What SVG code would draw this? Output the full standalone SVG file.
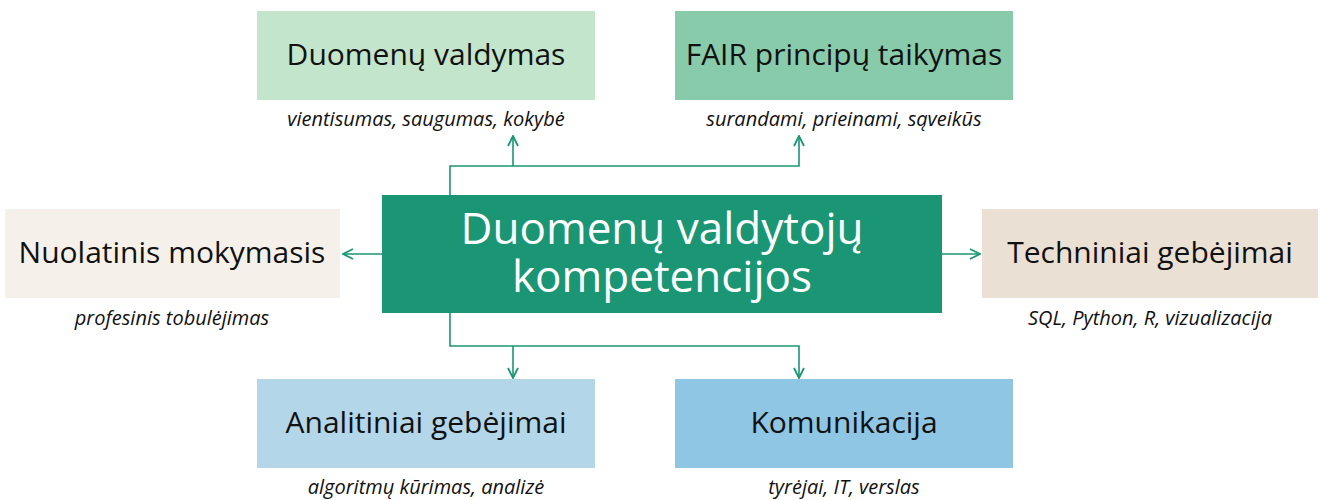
<svg xmlns="http://www.w3.org/2000/svg" width="1323" height="500" viewBox="0 0 1323 500">
<defs>
<marker id="arr" viewBox="0 0 12 12" refX="11" refY="6" markerWidth="12" markerHeight="12" markerUnits="userSpaceOnUse" orient="auto">
<path d="M1,1 L11,6 L1,11" fill="none" stroke="#1a9675" stroke-width="1.8"/>
</marker>
<style>
.t{font-family:"Open Sans","Noto Sans",sans-serif;font-size:30px;fill:#111;text-anchor:middle}
.s{font-family:"Open Sans","Noto Sans",sans-serif;font-size:20px;font-style:italic;fill:#111;text-anchor:middle}
.c{font-family:"Open Sans","Noto Sans",sans-serif;font-size:44px;fill:#fff;text-anchor:middle}
.ln{fill:none;stroke:#1a9675;stroke-width:1.6}
</style>
</defs>
<rect width="1323" height="500" fill="#fff"/>
<g id="connectors">
<polyline class="ln" points="450,195 450,166 513,166"/>
<polyline class="ln" points="513,166 513,136" marker-end="url(#arr)"/>
<polyline class="ln" points="513,166 799,166 799,136" marker-end="url(#arr)"/>
<polyline class="ln" points="450,313 450,346 513,346"/>
<polyline class="ln" points="513,346 513,378" marker-end="url(#arr)"/>
<polyline class="ln" points="513,346 799,346 799,378" marker-end="url(#arr)"/>
<line class="ln" x1="382" y1="254" x2="343" y2="254" marker-end="url(#arr)"/>
<line class="ln" x1="942" y1="254" x2="980" y2="254" marker-end="url(#arr)"/>
</g>
<g id="center">
<rect x="382" y="195" width="560" height="118" fill="#1a9675"/>
<text class="c"><tspan x="662" y="244">Duomenų valdytojų</tspan><tspan x="662" y="292">kompetencijos</tspan></text>
</g>
<g id="duomenu-valdymas">
<rect x="257" y="11" width="338" height="89" fill="#c3e5cc"/>
<text class="t" x="426" y="65">Duomenų valdymas</text>
<text class="s" x="426" y="126">vientisumas, saugumas, kokybė</text>
</g>
<g id="fair">
<rect x="675" y="11" width="338" height="89" fill="#88cbab"/>
<text class="t" x="844" y="65">FAIR principų taikymas</text>
<text class="s" x="844" y="126">surandami, prieinami, sąveikūs</text>
</g>
<g id="nuolatinis">
<rect x="5" y="209" width="335" height="89" fill="#f5f1ea"/>
<text class="t" x="172" y="263">Nuolatinis mokymasis</text>
<text class="s" x="172" y="325">profesinis tobulėjimas</text>
</g>
<g id="techniniai">
<rect x="982" y="209" width="336" height="89" fill="#ebe0d4"/>
<text class="t" x="1150" y="263">Techniniai gebėjimai</text>
<text class="s" x="1150" y="325">SQL, Python, R, vizualizacija</text>
</g>
<g id="analitiniai">
<rect x="257" y="379" width="338" height="89" fill="#b3d7e8"/>
<text class="t" x="426" y="433">Analitiniai gebėjimai</text>
<text class="s" x="426" y="494">algoritmų kūrimas, analizė</text>
</g>
<g id="komunikacija">
<rect x="675" y="379" width="338" height="89" fill="#8fc6e4"/>
<text class="t" x="844" y="433">Komunikacija</text>
<text class="s" x="844" y="494">tyrėjai, IT, verslas</text>
</g>
</svg>
